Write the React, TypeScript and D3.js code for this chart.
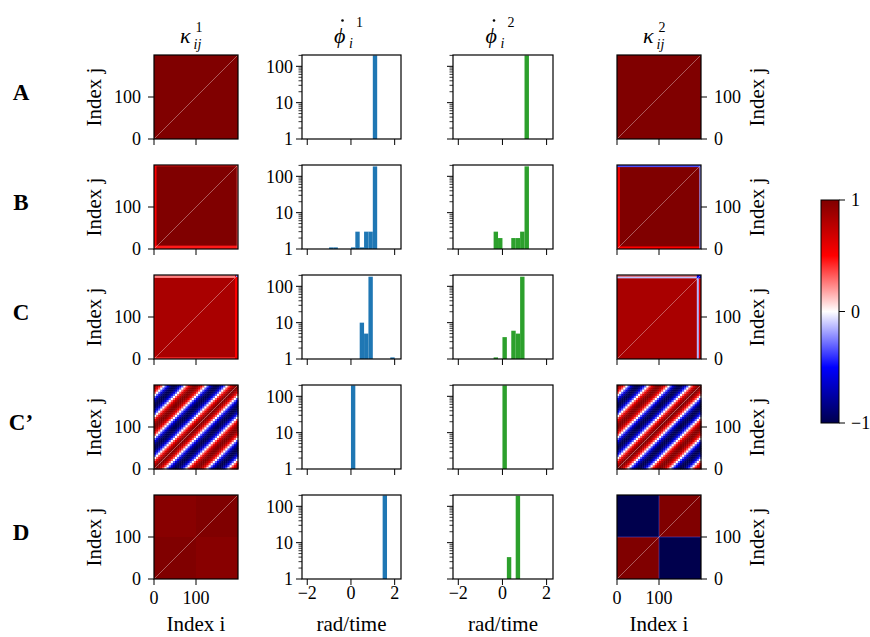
import React from "react";
import * as d3 from "d3";

const rowLabels = ["A", "B", "C", "C\u2019", "D"];
const heatTicks = [0, 100];
const histTicksX = [-2, 0, 2];
const histMajorY = [1, 10, 100];
const histMinorY = [2, 3, 4, 5, 6, 7, 8, 9, 20, 30, 40, 50, 60, 70, 80, 90, 200];
const cbarTicks = [1, 0, -1];

// coupling matrices as blocks [i0, i1, j0, j1, value], painted in order
const kappa1A = [[0, 200, 0, 200, 1]];
const kappa2A = [[0, 200, 0, 200, 1]];
const kappa1B = [
  [0, 200, 0, 200, 1],
  [0, 6, 0, 200, 0.52],
  [0, 200, 0, 8, 0.45],
  [0, 200, 197, 200, 0.45],
  [197, 200, 0, 200, 0.3],
];
const kappa2B = [
  [0, 200, 0, 200, 1],
  [0, 7, 0, 200, 0.55],
  [0, 200, 0, 6, 0.5],
  [196, 200, 0, 200, -0.2],
  [0, 200, 195, 200, -0.35],
];
const kappa1C = [
  [0, 200, 0, 200, 0.84],
  [0, 3, 0, 200, 0.6],
  [0, 200, 0, 4, 0.4],
  [193, 200, 0, 200, 0.5],
  [0, 193, 193, 200, 0.25],
  [195, 200, 195, 200, -0.3],
];
const kappa2C = [
  [0, 200, 0, 200, 0.84],
  [190, 195, 0, 200, -0.15],
  [195, 200, 0, 200, 0.6],
  [0, 200, 196, 200, 0.25],
  [0, 200, 192, 196, -0.12],
  [190, 200, 192, 200, -0.55],
];
// C': coupling vs offset i - j, offsets -195..195 in steps of 5
const kappaCpProfile = [
  0.95, 0.81, 0.59, 0.31, 0, -0.31, -0.59, -0.81, -0.95, -1,
  -0.95, -0.81, -0.59, -0.31, 0, 0.31, 0.59, 0.81, 0.95, 1,
  0.95, 0.81, 0.59, 0.31, 0, -0.31, -0.59, -0.81, -0.95, -1,
  -0.95, -0.81, -0.59, -0.31, 0, 0.31, 0.59, 0.81, 0.95, 1,
  0.95, 0.81, 0.59, 0.31, 0, -0.31, -0.59, -0.81, -0.95, -1,
  -0.95, -0.81, -0.59, -0.31, 0, 0.31, 0.59, 0.81, 0.95, 1,
  0.95, 0.81, 0.59, 0.31, 0, -0.31, -0.59, -0.81, -0.95, -1,
  -0.95, -0.81, -0.59, -0.31, 0, 0.31, 0.59, 0.81, 0.95,
];
const kappa1D = [
  [0, 200, 0, 200, 0.97],
  [0, 100, 0, 100, 1],
  [100, 200, 100, 200, 1],
];
const kappa2D = [
  [0, 100, 0, 100, 1],
  [100, 200, 100, 200, 1],
  [0, 100, 100, 200, -1],
  [100, 200, 0, 100, -1],
  [99.5, 100.5, 0, 200, -0.3],
  [0, 200, 99.5, 100.5, -0.3],
];

// histograms of frequencies: [bin left edge, count], bin width 0.2
const phi1A = [[1.0, 200]];
const phi2A = [[1.0, 200]];
const phi1B = [[-1.0, 1], [-0.8, 1], [0, 1], [0.2, 3], [0.4, 1], [0.6, 3], [0.8, 3], [1.0, 187]];
const phi2B = [[-0.4, 3], [-0.2, 2], [0.4, 2], [0.6, 2], [0.8, 3], [1.0, 188]];
const phi1C = [[0.4, 10], [0.6, 5], [0.8, 184], [1.8, 1]];
const phi2C = [[-0.4, 1], [0, 4], [0.4, 6], [0.6, 5], [0.8, 184]];
const phi1Cp = [[0, 200]];
const phi2Cp = [[0, 200]];
const phi1D = [[1.45, 200]];
const phi2D = [[0.2, 4], [0.6, 196]];

const rows = [
  { k1: kappa1A, p1: phi1A, p2: phi2A, k2: kappa2A },
  { k1: kappa1B, p1: phi1B, p2: phi2B, k2: kappa2B },
  { k1: kappa1C, p1: phi1C, p2: phi2C, k2: kappa2C },
  { k1: null, p1: phi1Cp, p2: phi2Cp, k2: null },
  { k1: kappa1D, p1: phi1D, p2: phi2D, k2: kappa2D },
];

const N = 200;
const BIN = 0.2;
const W = 870;
const H = 637;
const rowTop = [55, 165, 275, 385, 495];
const SIZE = 84;
const FONT = "'Liberation Serif', 'DejaVu Serif', serif";

const seismic = d3
  .scaleLinear<string>()
  .domain([-1, -0.5, 0, 0.5, 1])
  .range(["#00004d", "#0000ff", "#ffffff", "#ff0000", "#800000"])
  .clamp(true);

function Heatmap({ left, top, blocks, profile, side, last }) {
  const x = d3.scaleLinear().domain([0, N]).range([left, left + SIZE]);
  const y = d3.scaleLinear().domain([0, N]).range([top + SIZE, top]);
  let cells = blocks || [];
  let pad = 0;
  if (profile) {
    const step = 5;
    const n = N / step;
    cells = [];
    for (let ci = 0; ci < n; ci++) {
      for (let cj = 0; cj < n; cj++) {
        cells.push([ci * step, (ci + 1) * step, cj * step, (cj + 1) * step, profile[ci - cj + n - 1]]);
      }
    }
    pad = 0.4;
  }
  const right = side === "right";
  const ax = right ? left + SIZE : left;
  return (
    <g>
      {cells.map((c, k) => (
        <rect
          key={k}
          x={x(c[0])}
          y={y(c[3])}
          width={x(c[1]) - x(c[0]) + pad}
          height={y(c[2]) - y(c[3]) + pad}
          fill={seismic(c[4])}
        />
      ))}
      <line x1={x(0)} y1={y(0)} x2={x(N)} y2={y(N)} stroke="#ffffff" strokeOpacity={0.45} strokeWidth={0.8} />
      <rect x={left} y={top} width={SIZE} height={SIZE} fill="none" stroke="#000" strokeWidth={1.2} />
      {heatTicks.map((t) => (
        <g key={"y" + t}>
          <line x1={ax} x2={right ? ax + 6 : ax - 6} y1={y(t)} y2={y(t)} stroke="#000" strokeWidth={1} />
          <text x={right ? ax + 13 : ax - 13} y={y(t)} dy="0.35em" textAnchor={right ? "start" : "end"} fontSize={18}>
            {t}
          </text>
        </g>
      ))}
      {heatTicks.map((t) => (
        <g key={"x" + t}>
          <line x1={x(t)} x2={x(t)} y1={top + SIZE} y2={top + SIZE + 6} stroke="#000" strokeWidth={1} />
          {last && (
            <text x={x(t)} y={top + SIZE + 25} textAnchor="middle" fontSize={18}>
              {t}
            </text>
          )}
        </g>
      ))}
    </g>
  );
}

function Histogram({ left, top, width, bins, color, labels, last }) {
  const x = d3.scaleLinear().domain([-2.24, 2.29]).range([left, left + width]);
  const y = d3.scaleLog().domain([1, 205]).range([top + SIZE, top]);
  const bottom = top + SIZE;
  return (
    <g>
      {bins.map(([x0, n], k) => {
        const yt = Math.min(y(n), bottom - 1.6);
        return <rect key={k} x={x(x0)} y={yt} width={x(x0 + BIN) - x(x0)} height={bottom - yt} fill={color} />;
      })}
      <rect x={left} y={top} width={width} height={SIZE} fill="none" stroke="#000" strokeWidth={1.2} />
      {histMinorY.map((t) => (
        <line key={"m" + t} x1={left} x2={left - 3.5} y1={y(t)} y2={y(t)} stroke="#000" strokeWidth={0.8} />
      ))}
      {histMajorY.map((t) => (
        <g key={"M" + t}>
          <line x1={left} x2={left - 6} y1={y(t)} y2={y(t)} stroke="#000" strokeWidth={1} />
          {labels && (
            <text x={left - 9} y={y(t)} dy="0.35em" textAnchor="end" fontSize={18}>
              {t}
            </text>
          )}
        </g>
      ))}
      {histTicksX.map((t) => (
        <g key={"x" + t}>
          <line x1={x(t)} x2={x(t)} y1={bottom} y2={bottom + 6} stroke="#000" strokeWidth={1} />
          {last && (
            <text x={x(t)} y={bottom + 20} textAnchor="middle" fontSize={18}>
              {t < 0 ? "\u2212" + Math.abs(t) : t}
            </text>
          )}
        </g>
      ))}
    </g>
  );
}

function KappaTitle({ cx, sup }) {
  return (
    <text x={cx - 16} y={43}>
      <tspan fontSize={22} fontStyle="italic">κ</tspan>
      <tspan fontSize={14} dx={5} dy={-11}>{sup}</tspan>
      <tspan fontSize={14} fontStyle="italic" dx={-9} dy={17}>ij</tspan>
    </text>
  );
}

function PhiTitle({ cx, sup }) {
  // dot accent drawn as a small mark over the phi
  return (
    <g>
      <circle cx={cx - 9} cy={20.5} r={1.3} fill="#000" />
      <text x={cx - 17.5} y={43}>
        <tspan fontSize={22} fontStyle="italic">{"\u03d5"}</tspan>
        <tspan fontSize={14} dx={10.7} dy={-16}>{sup}</tspan>
        <tspan fontSize={14} fontStyle="italic" dx={-14} dy={21}>i</tspan>
      </text>
    </g>
  );
}

export default function App() {
  const cK1 = 154, cP1 = 302, cP2 = 453, cK2 = 617;
  const cb = d3.scaleLinear().domain([-1, 1]).range([423, 200]);
  const stops = d3.range(0, 1.0001, 0.05);
  return (
    <svg width={W} height={H} style={{ position: "absolute", left: 0, top: 0, background: "#fff" }} fontFamily={FONT}>
      <defs>
        <linearGradient id="seis" x1="0" y1="1" x2="0" y2="0">
          {stops.map((s) => (
            <stop key={s} offset={s} stopColor={seismic(-1 + 2 * s)} />
          ))}
        </linearGradient>
      </defs>
      <KappaTitle cx={196} sup="1" />
      <PhiTitle cx={351.5} sup="1" />
      <PhiTitle cx={503} sup="2" />
      <KappaTitle cx={659} sup="2" />
      {rows.map((r, i) => {
        const top = rowTop[i];
        const last = i === rows.length - 1;
        return (
          <g key={i}>
            <text x={21} y={top + 45} textAnchor="middle" fontSize={23} fontWeight="bold">
              {rowLabels[i]}
            </text>
            <text transform={`translate(101,${top + SIZE / 2}) rotate(-90)`} textAnchor="middle" fontSize={21}>
              Index j
            </text>
            <text transform={`translate(764,${top + SIZE / 2}) rotate(-90)`} textAnchor="middle" fontSize={21}>
              Index j
            </text>
            <Heatmap left={cK1} top={top} blocks={r.k1} profile={r.k1 ? null : kappaCpProfile} side="left" last={last} />
            <Histogram left={cP1} top={top} width={99} bins={r.p1} color="#1f77b4" labels={true} last={last} />
            <Histogram left={cP2} top={top} width={100} bins={r.p2} color="#2ca02c" labels={false} last={last} />
            <Heatmap left={cK2} top={top} blocks={r.k2} profile={r.k2 ? null : kappaCpProfile} side="right" last={last} />
          </g>
        );
      })}
      <text x={196} y={631} textAnchor="middle" fontSize={21}>Index i</text>
      <text x={351.5} y={631} textAnchor="middle" fontSize={21}>rad/time</text>
      <text x={503} y={631} textAnchor="middle" fontSize={21}>rad/time</text>
      <text x={659} y={631} textAnchor="middle" fontSize={21}>Index i</text>
      <rect x={821} y={cb(1)} width={18} height={cb(-1) - cb(1)} fill="url(#seis)" stroke="#000" strokeWidth={1} />
      {cbarTicks.map((t) => (
        <g key={t}>
          <line x1={839} x2={845} y1={cb(t)} y2={cb(t)} stroke="#000" strokeWidth={1} />
          <text x={851} y={cb(t)} dy="0.35em" fontSize={18}>
            {t < 0 ? "\u2212" + Math.abs(t) : t}
          </text>
        </g>
      ))}
    </svg>
  );
}
